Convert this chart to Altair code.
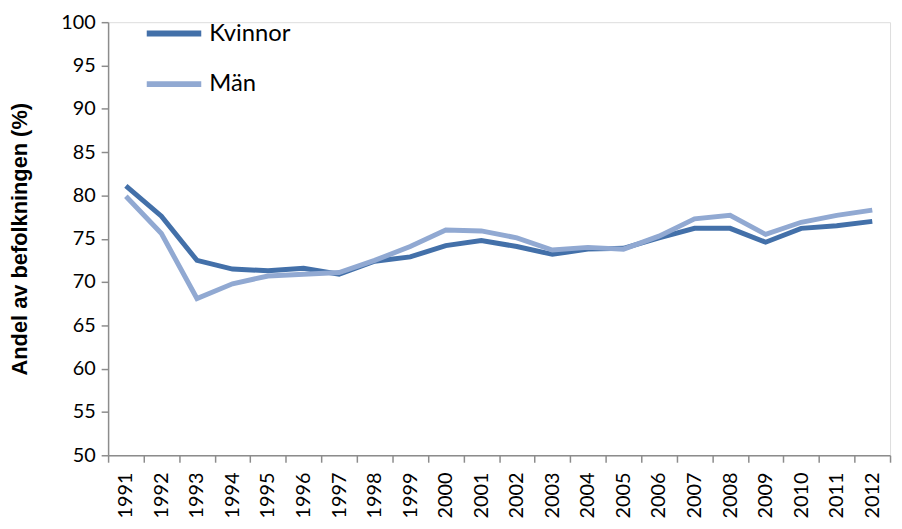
import altair as alt
import pandas as pd

years = list(range(1991, 2013))
kvinnor = [81.1, 77.6, 72.5, 71.5, 71.3, 71.6, 70.9, 72.4, 72.9, 74.2, 74.8,
           74.1, 73.2, 73.8, 73.9, 75.1, 76.2, 76.2, 74.6, 76.2, 76.5, 77.0]
man = [79.9, 75.6, 68.1, 69.8, 70.7, 70.9, 71.1, 72.5, 74.1, 76.0, 75.9,
       75.1, 73.7, 74.0, 73.8, 75.3, 77.3, 77.7, 75.5, 76.9, 77.7, 78.3]
series = ["Kvinnor", "Män"]
colors = ["#4370A9", "#91A9D2"]
y_ticks = list(range(50, 101, 5))

rows = []
for y, k, m in zip(years, kvinnor, man):
    rows.append({"År": str(y), "Serie": "Kvinnor", "Värde": k})
    rows.append({"År": str(y), "Serie": "Män", "Värde": m})
df = pd.DataFrame(rows)

font = "Lato"
axis_color = "#8c8c8c"

chart = alt.Chart(df).mark_line(strokeWidth=5).encode(
    x=alt.X("År:O",
            scale=alt.Scale(type="band", paddingInner=0, paddingOuter=0),
            axis=alt.Axis(title=None, labelAngle=-90, tickBand="extent",
                          labelFontSize=20, labelFont=font, labelColor="#000",
                          labelPadding=10, labelBaseline="middle", labelAlign="right",
                          domainColor=axis_color, tickColor=axis_color,
                          tickSize=7, domainWidth=1.5, tickWidth=1.5)),
    y=alt.Y("Värde:Q",
            scale=alt.Scale(domain=[50, 100], nice=False, zero=False),
            axis=alt.Axis(title="Andel av befolkningen (%)", values=y_ticks,
                          grid=False, labelFontSize=20, labelFont=font,
                          labelColor="#000", labelPadding=6,
                          titleFontSize=22, titleFont="Liberation Sans",
                          titleFontWeight="bold",
                          titleColor="#000", titlePadding=30,
                          domainColor=axis_color, tickColor=axis_color,
                          tickSize=7, domainWidth=1.5, tickWidth=1.5)),
    color=alt.Color("Serie:N",
                    scale=alt.Scale(domain=series, range=colors),
                    legend=alt.Legend(title=None, orient="none", legendX=36, legendY=-19,
                                      symbolType="stroke", symbolSize=3025,
                                      symbolStrokeWidth=6, labelFontSize=24,
                                      labelFont=font, labelColor="#000",
                                      rowPadding=8, labelOffset=5)),
).properties(
    width=789, height=437,
    padding={"left": 101, "top": 12, "right": 4, "bottom": 64},
    autosize=alt.AutoSizeParams(type="none"),
).configure_view(stroke=None).configure(background="white")

chart.save("out.html", embed_options={"renderer": "svg", "actions": False})
